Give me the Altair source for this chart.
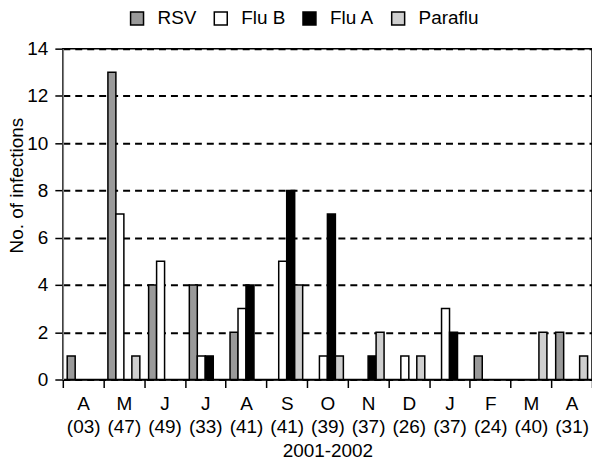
import altair as alt
import pandas as pd

months = ["A\n(03)", "M\n(47)", "J\n(49)", "J\n(33)", "A\n(41)", "S\n(41)", "O\n(39)",
          "N\n(37)", "D\n(26)", "J\n(37)", "F\n(24)", "M\n(40)", "A\n(31)"]
series = ["RSV", "Flu B", "Flu A", "Paraflu"]
rsv = [1, 13, 4, 4, 2, 0, 0, 0, 0, 0, 1, 0, 2]
flu_b = [0, 7, 5, 1, 3, 5, 1, 0, 1, 3, 0, 0, 0]
flu_a = [0, 0, 0, 1, 4, 8, 7, 1, 0, 2, 0, 0, 0]
paraflu = [0, 1, 0, 0, 0, 4, 1, 2, 1, 0, 0, 2, 1]
colors = ["#9a9a9a", "#ffffff", "#000000", "#cfcfcf"]

rows = []
for s, vals in zip(series, [rsv, flu_b, flu_a, paraflu]):
    for m, v in zip(months, vals):
        rows.append({"month": m, "series": s, "value": v})
df = pd.DataFrame(rows)

FONT = "Liberation Sans"
FS = 19

chart = alt.Chart(df).transform_filter(
    alt.datum.value > 0
).mark_bar(stroke="black", strokeWidth=1.5).encode(
    x=alt.X("month:N", sort=months,
            scale=alt.Scale(paddingInner=0, paddingOuter=0),
            axis=alt.Axis(title="2001-2002", labelAngle=0, tickBand="extent",
                          labelExpr="split(datum.label, '\\n')",
                          labelLineHeight=23.5, labelPadding=7, tickSize=8,
                          tickColor="black", domainColor="black", domainWidth=1.5,
                          tickWidth=1.5, labelFontSize=FS, labelColor="black",
                          titleFontSize=FS, titleFontWeight="normal", titleColor="black",
                          titleY=62)),
    xOffset=alt.XOffset("series:N", sort=series,
                        scale=alt.Scale(paddingInner=0, paddingOuter=0.55)),
    y=alt.Y("value:Q", scale=alt.Scale(domain=[0, 14], nice=False),
            axis=alt.Axis(title="No. of infections", values=list(range(0, 15, 2)),
                          tickSize=8, labelPadding=7, labelFontSize=FS, labelColor="black",
                          tickColor="black", tickWidth=1.5,
                          domainColor="#808080", domainWidth=1.5,
                          grid=True, gridColor="black", gridDash=[7, 5], gridWidth=2,
                          titleFontSize=FS, titleFontWeight="normal", titleColor="black",
                          titleX=-36, titleY=137)),
    fill=alt.Fill("series:N", sort=series,
                  scale=alt.Scale(domain=series, range=colors),
                  legend=alt.Legend(title=None, orient="none", direction="horizontal",
                                    legendX=65, legendY=-40, symbolType="square",
                                    symbolSize=169, symbolStrokeColor="black",
                                    symbolStrokeWidth=1.5, labelFontSize=FS,
                                    labelColor="black", labelOffset=11,
                                    columnPadding=14)),
).properties(
    width=531, height=332,
    autosize=alt.AutoSizeParams(type="none"),
    padding={"left": 55, "top": 40, "right": 0, "bottom": 90},
).configure(font=FONT).configure_view(stroke="black", strokeWidth=1.5)

chart.save("out.html", embed_options={"renderer": "svg", "actions": False})
